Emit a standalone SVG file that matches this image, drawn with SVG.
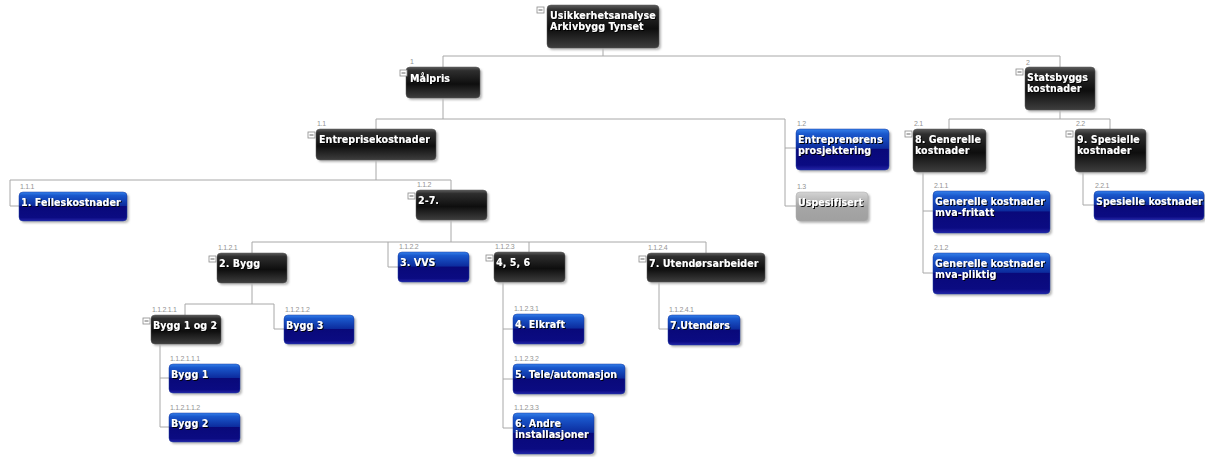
<svg xmlns="http://www.w3.org/2000/svg" width="1205" height="457" viewBox="0 0 1205 457">
<style>
.bg{fill:#ffffff}
.cn path{fill:none;stroke:#a8a8a8;stroke-width:1}
.sh{fill:#b8b8b8;filter:url(#bs)}
.dark{fill:url(#gDark);stroke:#555;stroke-width:0.5}
.blue{fill:url(#gBlue);stroke:#1a3aa0;stroke-width:0.5}
.grey{fill:url(#gGrey);stroke:#aaa;stroke-width:0.5}
.t{font-family:"DejaVu Sans Condensed","DejaVu Sans",sans-serif;font-weight:bold;font-size:10.5px;letter-spacing:0.1px;fill:#ffffff;filter:url(#ts)}
.num{font-family:"Liberation Sans",Arial,sans-serif;font-size:7px;letter-spacing:-0.3px;fill:#939393}
.ic rect{fill:#ffffff;stroke:#8a8a8a;stroke-width:0.8}
.ic path{stroke:#666;stroke-width:1;fill:none}
</style>
<defs>
<linearGradient id="gDark" x1="0" y1="0" x2="0" y2="1">
<stop offset="0" stop-color="#5c5c5c"/>
<stop offset="0.12" stop-color="#2e2e2e"/>
<stop offset="0.55" stop-color="#0e0e0e"/>
<stop offset="1" stop-color="#3e3e3e"/>
</linearGradient>
<linearGradient id="gBlue" x1="0" y1="0" x2="0" y2="1">
<stop offset="0" stop-color="#3580ea"/>
<stop offset="0.12" stop-color="#1a58cc"/>
<stop offset="0.47" stop-color="#0c2c9e"/>
<stop offset="0.5" stop-color="#09097a"/>
<stop offset="0.88" stop-color="#0b0b82"/>
<stop offset="1" stop-color="#2424a6"/>
</linearGradient>
<linearGradient id="gGrey" x1="0" y1="0" x2="0" y2="1">
<stop offset="0" stop-color="#d4d4d4"/>
<stop offset="0.5" stop-color="#a6a6a6"/>
<stop offset="1" stop-color="#a0a0a0"/>
</linearGradient>
<filter id="bs" x="-20%" y="-30%" width="140%" height="160%"><feGaussianBlur stdDeviation="1.2"/></filter>
<filter id="ts" x="-5%" y="-30%" width="115%" height="170%"><feDropShadow dx="1" dy="1" stdDeviation="0.3" flood-color="#000" flood-opacity="0.95"/></filter>
</defs>
<rect class="bg" x="0" y="0" width="1205" height="457"/>

<g id="connectors" class="cn">
<path d="M603,48V56M443,56H1060M443,56V67M1060,56V67"/>
<path d="M443,98V119M376,119H785M376,119V129M785,119V206M785,148H796M785,206H796"/>
<path d="M1060,110V119M949,119H1110M949,119V129M1110,119V129"/>
<path d="M923,172V273M923,211H933M923,273H933"/>
<path d="M1083,172V205H1094"/>
<path d="M376,160V180M10,180H451M10,180V206H19M451,180V190"/>
<path d="M451,220V242M252,242H706M252,242V253M388,242V267H398M529,242V252M706,242V253"/>
<path d="M252,283V304M185,304H274M185,304V315M274,304V329H284"/>
<path d="M160,344V427M160,378H169M160,427H169"/>
<path d="M503,282V428M503,329H513M503,379H513M503,428H513"/>
<path d="M659,282V329H668"/>
</g>

<g id="n-root"><rect class="sh" x="549" y="7" width="112" height="43" rx="4"/><rect class="dark" x="547" y="5" width="112" height="43" rx="4"/><g class="ic"><rect x="537" y="7" width="7" height="6"/><path d="M538.5,10H542.5"/></g><text class="t" x="550" y="19">Usikkerhetsanalyse</text><text class="t" x="550" y="30">Arkivbygg Tynset</text></g>

<g id="n-1"><rect class="sh" x="408" y="69" width="74" height="31" rx="4"/><rect class="dark" x="406" y="67" width="74" height="31" rx="4"/><text class="num" x="410" y="64">1</text><g class="ic"><rect x="400" y="70" width="7" height="6"/><path d="M401.5,73H405.5"/></g><text class="t" x="410" y="82">Målpris</text></g>

<g id="n-2"><rect class="sh" x="1027" y="69" width="70" height="43" rx="4"/><rect class="dark" x="1025" y="67" width="70" height="43" rx="4"/><text class="num" x="1026" y="65">2</text><g class="ic"><rect x="1016" y="69" width="7" height="6"/><path d="M1017.5,72H1021.5"/></g><text class="t" x="1027" y="81">Statsbyggs</text><text class="t" x="1027" y="92">kostnader</text></g>

<g id="n-1-1"><rect class="sh" x="318" y="131" width="120" height="31" rx="4"/><rect class="dark" x="316" y="129" width="120" height="31" rx="4"/><text class="num" x="317" y="126">1.1</text><g class="ic"><rect x="308" y="132" width="7" height="6"/><path d="M309.5,135H313.5"/></g><text class="t" x="319" y="143">Entreprisekostnader</text></g>

<g id="n-1-2"><rect class="sh" x="798" y="131" width="93" height="41" rx="4"/><rect class="blue" x="796" y="129" width="93" height="41" rx="4"/><text class="num" x="797" y="126">1.2</text><text class="t" x="798" y="143">Entreprenørens</text><text class="t" x="798" y="154">prosjektering</text></g>

<g id="n-1-3"><rect class="sh" x="798" y="194" width="72" height="29" rx="4"/><rect class="grey" x="796" y="192" width="72" height="29" rx="4"/><text class="num" x="797" y="189">1.3</text><text class="t" x="798" y="206">Uspesifisert</text></g>

<g id="n-2-1"><rect class="sh" x="915" y="131" width="73" height="43" rx="4"/><rect class="dark" x="913" y="129" width="73" height="43" rx="4"/><text class="num" x="914" y="126">2.1</text><g class="ic"><rect x="905" y="131" width="7" height="6"/><path d="M906.5,134H910.5"/></g><text class="t" x="915" y="143">8. Generelle</text><text class="t" x="915" y="154">kostnader</text></g>

<g id="n-2-2"><rect class="sh" x="1077" y="131" width="71" height="43" rx="4"/><rect class="dark" x="1075" y="129" width="71" height="43" rx="4"/><text class="num" x="1076" y="126">2.2</text><g class="ic"><rect x="1066" y="131" width="7" height="6"/><path d="M1067.5,134H1071.5"/></g><text class="t" x="1077" y="143">9. Spesielle</text><text class="t" x="1077" y="154">kostnader</text></g>

<g id="n-1-1-1"><rect class="sh" x="21" y="194" width="108" height="29" rx="4"/><rect class="blue" x="19" y="192" width="108" height="29" rx="4"/><text class="num" x="20" y="189">1.1.1</text><text class="t" x="21" y="206">1. Felleskostnader</text></g>

<g id="n-1-1-2"><rect class="sh" x="418" y="192" width="71" height="30" rx="4"/><rect class="dark" x="416" y="190" width="71" height="30" rx="4"/><text class="num" x="417" y="187">1.1.2</text><g class="ic"><rect x="408" y="193" width="7" height="6"/><path d="M409.5,196H413.5"/></g><text class="t" x="418" y="204">2-7.</text></g>

<g id="n-2-1-1"><rect class="sh" x="935" y="193" width="117" height="42" rx="4"/><rect class="blue" x="933" y="191" width="117" height="42" rx="4"/><text class="num" x="934" y="188">2.1.1</text><text class="t" x="935" y="205">Generelle kostnader</text><text class="t" x="935" y="216">mva-fritatt</text></g>

<g id="n-2-1-2"><rect class="sh" x="935" y="255" width="117" height="41" rx="4"/><rect class="blue" x="933" y="253" width="117" height="41" rx="4"/><text class="num" x="934" y="250">2.1.2</text><text class="t" x="935" y="267">Generelle kostnader</text><text class="t" x="935" y="278">mva-pliktig</text></g>

<g id="n-2-2-1"><rect class="sh" x="1096" y="193" width="110" height="29" rx="4"/><rect class="blue" x="1094" y="191" width="110" height="29" rx="4"/><text class="num" x="1095" y="188">2.2.1</text><text class="t" x="1096" y="205">Spesielle kostnader</text></g>

<g id="n-1-1-2-1"><rect class="sh" x="219" y="255" width="70" height="30" rx="4"/><rect class="dark" x="217" y="253" width="70" height="30" rx="4"/><text class="num" x="218" y="250">1.1.2.1</text><g class="ic"><rect x="209" y="256" width="7" height="6"/><path d="M210.5,259H214.5"/></g><text class="t" x="219" y="267">2. Bygg</text></g>

<g id="n-1-1-2-2"><rect class="sh" x="400" y="254" width="71" height="30" rx="4"/><rect class="blue" x="398" y="252" width="71" height="30" rx="4"/><text class="num" x="399" y="249">1.1.2.2</text><text class="t" x="400" y="266">3. VVS</text></g>

<g id="n-1-1-2-3"><rect class="sh" x="496" y="254" width="71" height="30" rx="4"/><rect class="dark" x="494" y="252" width="71" height="30" rx="4"/><text class="num" x="495" y="249">1.1.2.3</text><g class="ic"><rect x="486" y="255" width="7" height="6"/><path d="M487.5,258H491.5"/></g><text class="t" x="496" y="266">4, 5, 6</text></g>

<g id="n-1-1-2-4"><rect class="sh" x="649" y="255" width="118" height="29" rx="4"/><rect class="dark" x="647" y="253" width="118" height="29" rx="4"/><text class="num" x="648" y="250">1.1.2.4</text><g class="ic"><rect x="639" y="256" width="7" height="6"/><path d="M640.5,259H644.5"/></g><text class="t" x="649" y="267">7. Utendørsarbeider</text></g>

<g id="n-1-1-2-1-1"><rect class="sh" x="153" y="317" width="70" height="29" rx="4"/><rect class="dark" x="151" y="315" width="70" height="29" rx="4"/><text class="num" x="152" y="312">1.1.2.1.1</text><g class="ic"><rect x="143" y="318" width="7" height="6"/><path d="M144.5,321H148.5"/></g><text class="t" x="153" y="329">Bygg 1 og 2</text></g>

<g id="n-1-1-2-1-2"><rect class="sh" x="286" y="317" width="70" height="29" rx="4"/><rect class="blue" x="284" y="315" width="70" height="29" rx="4"/><text class="num" x="285" y="312">1.1.2.1.2</text><text class="t" x="286" y="329">Bygg 3</text></g>

<g id="n-1-1-2-4-1"><rect class="sh" x="670" y="317" width="72" height="30" rx="4"/><rect class="blue" x="668" y="315" width="72" height="30" rx="4"/><text class="num" x="669" y="312">1.1.2.4.1</text><text class="t" x="670" y="329">7.Utendørs</text></g>

<g id="n-1-1-2-1-1-1"><rect class="sh" x="171" y="366" width="71" height="29" rx="4"/><rect class="blue" x="169" y="364" width="71" height="29" rx="4"/><text class="num" x="170" y="361">1.1.2.1.1.1</text><text class="t" x="171" y="378">Bygg 1</text></g>

<g id="n-1-1-2-1-1-2"><rect class="sh" x="171" y="415" width="71" height="29" rx="4"/><rect class="blue" x="169" y="413" width="71" height="29" rx="4"/><text class="num" x="170" y="410">1.1.2.1.1.2</text><text class="t" x="171" y="427">Bygg 2</text></g>

<g id="n-1-1-2-3-1"><rect class="sh" x="515" y="316" width="71" height="30" rx="4"/><rect class="blue" x="513" y="314" width="71" height="30" rx="4"/><text class="num" x="514" y="311">1.1.2.3.1</text><text class="t" x="515" y="328">4. Elkraft</text></g>

<g id="n-1-1-2-3-2"><rect class="sh" x="515" y="366" width="112" height="30" rx="4"/><rect class="blue" x="513" y="364" width="112" height="30" rx="4"/><text class="num" x="514" y="361">1.1.2.3.2</text><text class="t" x="515" y="378">5. Tele/automasjon</text></g>

<g id="n-1-1-2-3-3"><rect class="sh" x="515" y="415" width="81" height="41" rx="4"/><rect class="blue" x="513" y="413" width="81" height="41" rx="4"/><text class="num" x="514" y="410">1.1.2.3.3</text><text class="t" x="515" y="427">6. Andre</text><text class="t" x="515" y="438">installasjoner</text></g>
</svg>
